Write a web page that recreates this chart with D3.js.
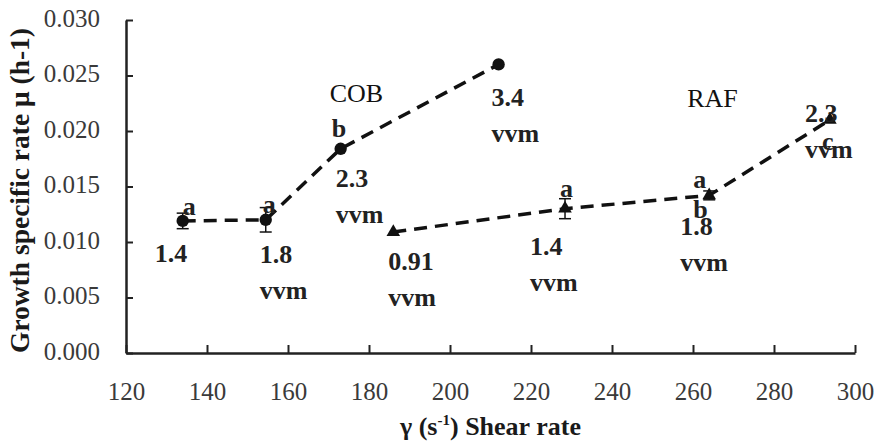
<!DOCTYPE html>
<html>
<head>
<meta charset="utf-8">
<script src="https://cdn.jsdelivr.net/npm/d3@7"></script>
<style>
  html, body { margin: 0; padding: 0; background: #fff; }
  svg { display: block; }
</style>
</head>
<body>
<svg id="chart" width="876" height="445"></svg>
<script>
// ---------------- data ----------------
const xTicks = [120, 140, 160, 180, 200, 220, 240, 260, 280, 300];
const yTicks = [0, 0.005, 0.010, 0.015, 0.020, 0.025, 0.030];

const shearCOB  = [134, 154.5, 173, 212];
const muCOB     = [0.0119, 0.0120, 0.0184, 0.0260];
const errCOB    = [0.0007, 0.0011, 0, 0];
const vvmCOB    = ["1.4", "1.8", "2.3", "3.4"];
const unitCOB   = ["", "vvm", "vvm", "vvm"];
const letterUpCOB   = ["a", "a", "b", ""];
const letterDownCOB = ["", "", "", ""];

const shearRAF  = [186, 228.4, 264, 293.8];
const muRAF     = [0.0109, 0.0130, 0.0142, 0.0210];
const errRAF    = [0, 0.0009, 0.0004, 0];
const vvmRAF    = ["0.91", "1.4", "1.8", "2.3"];
const unitRAF   = ["vvm", "vvm", "vvm", "vvm"];
const letterUpRAF   = ["", "a", "a", ""];
const letterDownRAF = ["", "", "b", "c"];

// ---------------- layout (pixel offsets for annotations) ----------------
const L = {
  cob: {
    up:   [[0, -6], [-3, -7], [-9, -12], [0, 0]],
    down: [[0, 0], [0, 0], [0, 0], [0, 0]],
    val:  [[-28, 41], [-6, 43], [-5, 38], [-7, 42]],
    name: { idx: 2, dx: -11, dy: -47, text: "COB" }
  },
  raf: {
    up:   [[0, 0], [-5, -12], [-16, -7], [0, 0]],
    down: [[0, 0], [0, 0], [-16, 23], [-8, 30]],
    val:  [[-5, 38], [-35, 46], [-29, 40], [-25, 2]],
    name: { idx: 2, dx: -22, dy: -88, text: "RAF" }
  }
};
const lineGap = 36;

const svg = d3.select("#chart");
const x = d3.scaleLinear().domain([120, 300]).range([126, 855]);
const y = d3.scaleLinear().domain([0, 0.03]).range([353, 20]);

const serif = "'Liberation Serif', 'Times New Roman', serif";
const axisColor = "#222";

// fit a text's font size so its length matches a target width
function fitText(sel, target) {
  const fs = parseFloat(sel.style("font-size"));
  const len = sel.node().getComputedTextLength();
  if (len > 0) sel.style("font-size", (fs * target / len).toFixed(2) + "px");
}

// axes
const xAxis = d3.axisBottom(x).tickValues(xTicks).tickSizeInner(-8).tickSizeOuter(0).tickPadding(29).tickFormat(d3.format("d"));
const yAxis = d3.axisLeft(y).tickValues(yTicks).tickSizeInner(-7).tickSizeOuter(0).tickPadding(26).tickFormat(d3.format(".3f"));

const gx = svg.append("g").attr("transform", `translate(0,${y(0)})`).call(xAxis);
const gy = svg.append("g").attr("transform", `translate(${x(120)},0)`).call(yAxis);
[gx, gy].forEach(g => {
  g.select(".domain").attr("stroke", axisColor).attr("stroke-width", 2.5);
  g.selectAll(".tick line").attr("stroke", axisColor).attr("stroke-width", 2);
  g.selectAll(".tick text").attr("fill", "#3a3a3a").style("font-family", serif).style("font-size", "25px");
});
gy.selectAll(".tick text").attr("dy", "0.25em");
gx.selectAll(".tick text").attr("dy", "0.71em");

// axis titles
const yt = svg.append("text")
  .attr("transform", `translate(29,${(y(0) + 28) / 2}) rotate(-90)`)
  .attr("text-anchor", "middle")
  .style("font-family", serif).style("font-size", "26px").style("font-weight", "bold")
  .attr("fill", "#1a1a1a")
  .text("Growth specific rate μ (h-1)");
fitText(yt, 325);

const xt = svg.append("text")
  .attr("x", (x(120) + x(300)) / 2).attr("y", 435)
  .attr("text-anchor", "middle")
  .style("font-family", serif).style("font-size", "26px").style("font-weight", "bold")
  .attr("fill", "#1a1a1a");
xt.append("tspan").text("γ (s");
xt.append("tspan").attr("dy", -10).style("font-size", "15px").text("-1");
xt.append("tspan").attr("dy", 10).text(") Shear rate");

// series
function drawSeries(xs, ys, errs, symbol, lay, vals, units, ups, downs) {
  const pts = xs.map((v, i) => ({ x: v, y: ys[i], e: errs[i], i }));
  svg.append("path")
    .datum(pts)
    .attr("d", d3.line().x(d => x(d.x)).y(d => y(d.y)))
    .attr("fill", "none").attr("stroke", "#111")
    .attr("stroke-width", 3.5).attr("stroke-dasharray", "13,8");

  const eb = svg.append("g").attr("stroke", "#111").attr("stroke-width", 1.5);
  pts.filter(d => d.e > 0).forEach(d => {
    const cx = x(d.x);
    eb.append("line").attr("x1", cx).attr("x2", cx).attr("y1", y(d.y - d.e)).attr("y2", y(d.y + d.e));
    eb.append("line").attr("x1", cx - 6).attr("x2", cx + 6).attr("y1", y(d.y - d.e)).attr("y2", y(d.y - d.e));
    eb.append("line").attr("x1", cx - 6).attr("x2", cx + 6).attr("y1", y(d.y + d.e)).attr("y2", y(d.y + d.e));
  });

  svg.append("g").selectAll("path").data(pts).join("path")
    .attr("transform", d => `translate(${x(d.x)},${y(d.y)})`)
    .attr("d", d3.symbol().type(symbol).size(symbol === d3.symbolCircle ? 120 : 80))
    .attr("fill", "#111");

  const tg = svg.append("g")
    .style("font-family", serif).style("font-size", "26px").style("font-weight", "bold")
    .attr("fill", "#222");
  pts.forEach(d => {
    const px = x(d.x), py = y(d.y);
    const [vx, vy] = lay.val[d.i];
    tg.append("text").attr("x", px + vx).attr("y", py + vy).text(vals[d.i]);
    if (units[d.i]) tg.append("text").attr("x", px + vx).attr("y", py + vy + lineGap).text(units[d.i]);
    if (ups[d.i]) tg.append("text").attr("x", px + lay.up[d.i][0]).attr("y", py + lay.up[d.i][1]).text(ups[d.i]);
    if (downs[d.i]) tg.append("text").attr("x", px + lay.down[d.i][0]).attr("y", py + lay.down[d.i][1]).text(downs[d.i]);
  });
  const n = lay.name;
  tg.append("text").attr("x", x(xs[n.idx]) + n.dx).attr("y", y(ys[n.idx]) + n.dy)
    .style("font-weight", "normal").attr("fill", "#111").text(n.text);
}

drawSeries(shearCOB, muCOB, errCOB, d3.symbolCircle, L.cob, vvmCOB, unitCOB, letterUpCOB, letterDownCOB);
drawSeries(shearRAF, muRAF, errRAF, d3.symbolTriangle, L.raf, vvmRAF, unitRAF, letterUpRAF, letterDownRAF);
</script>
</body>
</html>
